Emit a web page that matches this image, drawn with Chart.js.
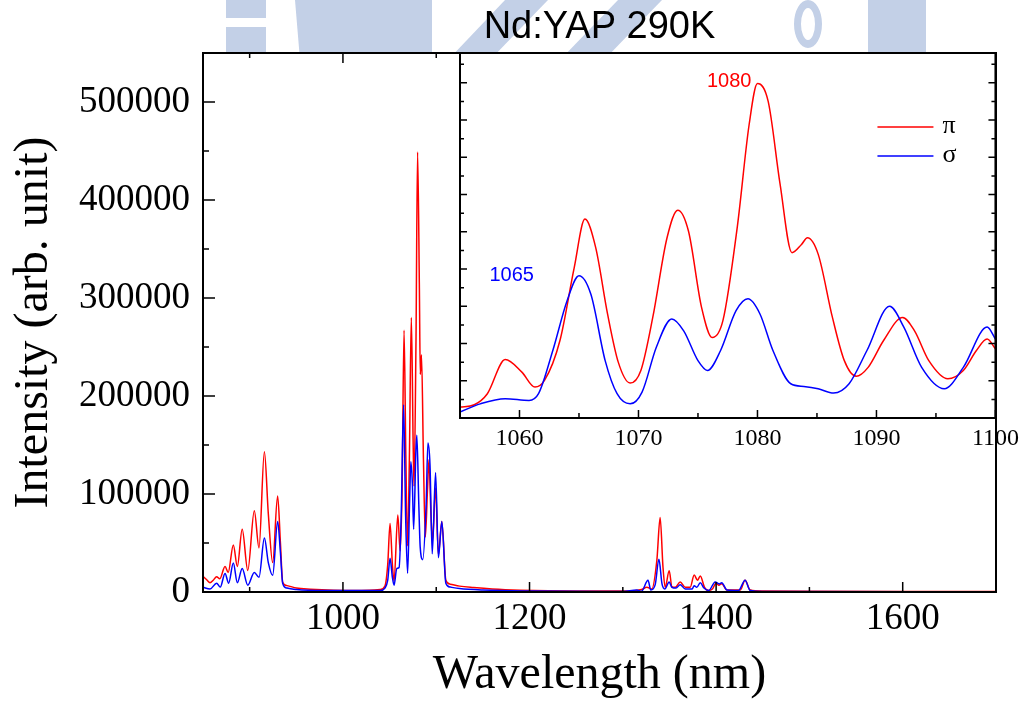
<!DOCTYPE html>
<html>
<head>
<meta charset="utf-8">
<script src="https://cdn.jsdelivr.net/npm/chart.js@4.4.1/dist/chart.umd.min.js"></script>
<style>
  html, body { margin: 0; padding: 0; background: #fff; }
  #quadro { position: relative; width: 1025px; height: 704px; }
  #quadro canvas { position: absolute; left: 0; top: 0; }
</style>
</head>
<body>
<div id="quadro">
  <canvas id="espectro" width="1025" height="704"></canvas>
  <canvas id="detalhe" width="1025" height="704"></canvas>
</div>
<script>
// Espectro de emissão do Nd:YAP a 290 K, polarizações π e σ
const tituloGrafico = 'Nd:YAP 290K';
const tituloEixoX = 'Wavelength (nm)';
const tituloEixoY = 'Intensity (arb. unit)';

// Espectro completo (nm, contagens)
const piComprimento = [850, 854, 857.5, 861, 864.6, 868, 873.6, 877, 882.5, 886.8, 892, 898, 905, 910, 915.8, 920, 924.7, 930, 933, 935.4, 940, 950, 965, 990, 1020, 1040, 1045, 1048, 1050.5, 1053, 1054.8, 1058.8, 1061.3, 1063.4, 1065.5, 1067.4, 1069.3, 1071.2, 1073.3, 1075.3, 1076.2, 1078.3, 1080, 1081.9, 1082.9, 1084.2, 1086.3, 1088.3, 1090.6, 1092.2, 1094.4, 1096, 1099.3, 1102.3, 1106, 1110.3, 1115, 1125, 1140, 1160, 1190, 1250, 1310, 1320, 1325.8, 1331, 1336.5, 1340, 1343, 1345.4, 1349.7, 1352.6, 1356.2, 1361.5, 1366.9, 1372.2, 1376.5, 1380, 1383, 1387.6, 1392, 1396, 1400, 1403, 1406, 1411.6, 1426, 1431, 1436.6, 1450, 1500, 1600, 1700];
const piIntensidade = [16000, 12500, 9500, 12000, 15600, 13500, 26000, 20000, 48000, 26000, 64000, 22000, 83000, 45000, 143000, 80000, 30000, 98000, 50000, 10000, 6500, 4000, 2800, 1800, 1600, 2500, 6000, 28000, 70000, 28000, 11000, 78500, 42000, 104000, 267000, 140000, 47000, 135000, 280000, 149000, 108000, 256000, 449000, 314000, 222000, 242000, 135000, 56000, 104000, 135000, 77000, 52000, 106000, 38000, 72000, 12000, 8000, 6000, 4500, 3000, 1800, 1000, 1000, 2500, 4800, 3000, 32600, 76000, 26000, 4800, 21700, 5400, 4800, 10200, 4800, 4800, 17300, 12000, 16300, 4800, 1500, 3000, 9000, 7000, 8500, 2000, 2000, 12000, 2000, 1000, 700, 600, 600];

const sigmaComprimento = [850, 857.5, 864.6, 868.5, 873.6, 877.5, 882.5, 886.8, 892, 898, 905, 910, 915.8, 920, 924.7, 930, 933, 935.4, 940, 950, 980, 1040, 1045, 1048, 1050.5, 1053, 1054.8, 1057.7, 1060.2, 1062.5, 1065, 1067.2, 1069.3, 1071.5, 1072.8, 1074.4, 1075.8, 1078.2, 1079.2, 1081.3, 1082.8, 1085.6, 1089.2, 1091.1, 1093.3, 1095.7, 1099.3, 1102.3, 1106, 1110.3, 1115, 1125, 1150, 1200, 1300, 1315, 1320, 1327, 1330, 1334.7, 1338.7, 1342, 1345, 1349.7, 1352.6, 1357, 1361.5, 1367, 1374.3, 1376.5, 1379.3, 1383, 1387, 1392, 1399, 1403.4, 1406, 1411.6, 1424, 1431, 1436.6, 1450, 1700];
const sigmaIntensidade = [4800, 3000, 9000, 5000, 19000, 9000, 29500, 9500, 24000, 7000, 20000, 15000, 55000, 30000, 17000, 72000, 40000, 9000, 4000, 2500, 1500, 1500, 4000, 12000, 34500, 15000, 7000, 24000, 25000, 80000, 191000, 77000, 19000, 95000, 133000, 111000, 64000, 144000, 160000, 90000, 46000, 33000, 90000, 152000, 130000, 39000, 122000, 35000, 72000, 9000, 5000, 3500, 2000, 1000, 600, 2000, 800, 12000, 2000, 7500, 33300, 8200, 3000, 10200, 4800, 4000, 7500, 3000, 3000, 6500, 4800, 9500, 4000, 1500, 10200, 8200, 9500, 2000, 1500, 12000, 1500, 600, 300];

// Detalhe 1055-1100 nm
const detalhePiComprimento = [1055, 1056.2, 1057.3, 1058.8, 1060.2, 1061.3, 1062.1, 1063.4, 1064.6, 1065.5, 1066.4, 1067.4, 1068.3, 1069.3, 1070.2, 1071.2, 1072.4, 1073.3, 1074.2, 1075.3, 1076.2, 1077.1, 1078.3, 1079.3, 1080, 1080.9, 1081.9, 1082.9, 1083.7, 1084.2, 1085.1, 1086.3, 1087.3, 1088.3, 1089.3, 1090.6, 1092.2, 1093.2, 1094.4, 1096, 1097.3, 1098.4, 1099.3, 1100];
const detalhePiIntensidade = [14700, 17800, 32600, 78500, 61600, 41500, 50400, 104000, 202000, 267000, 229000, 139700, 75000, 46900, 63800, 135000, 242000, 279000, 251000, 148600, 108000, 131000, 256000, 394000, 449000, 425000, 314000, 222000, 233000, 242000, 220000, 135000, 77000, 56000, 68000, 104000, 135000, 117000, 77000, 52600, 63800, 90600, 106000, 92800];

const detalheSigmaComprimento = [1055, 1056.7, 1058.8, 1060.8, 1061.6, 1062.8, 1064, 1065, 1066, 1067.2, 1068.2, 1069.3, 1070.3, 1071.5, 1072.8, 1073.8, 1075, 1075.8, 1076.9, 1078.2, 1079.2, 1080.2, 1081.3, 1082.8, 1083.9, 1085.1, 1086.4, 1087.7, 1089.2, 1091.1, 1092.3, 1093.8, 1095.7, 1097.3, 1099.3, 1100];
const detalheSigmaIntensidade = [8000, 19000, 26000, 23600, 32600, 90600, 157500, 191000, 166000, 77000, 32600, 19000, 34800, 95000, 133000, 117000, 77000, 63800, 90600, 144000, 160000, 140000, 90600, 46000, 42400, 39300, 33500, 46000, 90600, 150000, 122000, 68000, 39300, 68000, 122000, 106000];

// Picos anotados no detalhe (nm)
const picoPi = 1080;
const picoSigma = 1065;

const ticksX = [1000, 1200, 1400, 1600];
const ticksY = [0, 100000, 200000, 300000, 400000, 500000];
const ticksDetalheX = [1060, 1070, 1080, 1090, 1100];

const corPi = '#ff0000';
const corSigma = '#0000ff';
const fonteSerif = '"Liberation Serif", "Times New Roman", serif';
const fonteSans = '"Liberation Sans", Arial, sans-serif';

function pontos(xs, ys) {
    return xs.map((x, i) => ({ x: x, y: ys[i] }));
}

function serie(inicio, fim, passo) {
    const v = [];
    for (let x = inicio; x <= fim + 1e-9; x += passo) v.push(x);
    return v;
}

// Marcas de escala voltadas para dentro + moldura do gráfico
function criarMarcas(marcas) {
    return {
        id: 'marcasInternas',
        afterDraw(chart) {
            const { ctx, chartArea: a, scales } = chart;
            ctx.save();
            ctx.strokeStyle = '#000';
            ctx.lineWidth = 1.5;
            ctx.beginPath();
            marcas.forEach(m => {
                const s = scales[m.eixo];
                m.valores.forEach(v => {
                    const p = s.getPixelForValue(v);
                    m.lados.forEach(lado => {
                        if (lado === 'left') { ctx.moveTo(a.left, p); ctx.lineTo(a.left + m.tam, p); }
                        if (lado === 'right') { ctx.moveTo(a.right, p); ctx.lineTo(a.right - m.tam, p); }
                        if (lado === 'bottom') { ctx.moveTo(p, a.bottom); ctx.lineTo(p, a.bottom - m.tam); }
                        if (lado === 'top') { ctx.moveTo(p, a.top); ctx.lineTo(p, a.top + m.tam); }
                    });
                });
            });
            ctx.stroke();
            ctx.lineWidth = 2;
            ctx.strokeRect(a.left, a.top, a.width, a.height);
            ctx.restore();
        }
    };
}

// Logotipo claro ao fundo, só aparece acima da área do gráfico
const marcaDagua = {
    id: 'marcaDagua',
    beforeDraw(chart) {
        const { ctx, chartArea: a } = chart;
        ctx.save();
        ctx.beginPath();
        ctx.rect(0, 0, chart.width, a.top);
        ctx.clip();
        ctx.fillStyle = '#c3d0e7';
        ctx.fillRect(226, 0, 40, 18);
        ctx.fillRect(226, 27, 40, 30);
        ctx.beginPath();
        ctx.moveTo(295, 0); ctx.lineTo(432, 0); ctx.lineTo(432, 60); ctx.lineTo(300, 60);
        ctx.closePath(); ctx.fill();
        ctx.beginPath();
        ctx.moveTo(448, 60); ctx.lineTo(505, 0); ctx.lineTo(548, 0); ctx.lineTo(490, 60);
        ctx.closePath(); ctx.fill();
        ctx.beginPath();
        ctx.moveTo(560, 60); ctx.lineTo(618, 0); ctx.lineTo(662, 0); ctx.lineTo(604, 60);
        ctx.closePath(); ctx.fill();
        ctx.beginPath();
        ctx.ellipse(808, 24, 14, 24, 0, 0, Math.PI * 2);
        ctx.ellipse(808, 24, 7, 16, 0, 0, Math.PI * 2);
        ctx.fill('evenodd');
        ctx.fillRect(868, 0, 58, 60);
        ctx.restore();
        ctx.fillStyle = '#fff';
        ctx.fillRect(a.left, a.top, a.width, a.height);
    }
};

const fundoBranco = {
    id: 'fundoBranco',
    beforeDraw(chart) {
        const { ctx, chartArea: a } = chart;
        ctx.save();
        ctx.fillStyle = '#fff';
        ctx.fillRect(a.left, a.top, a.width, a.height);
        ctx.restore();
    }
};

// Rótulos dos picos e legenda desenhados dentro do detalhe
const anotacoesDetalhe = {
    id: 'anotacoesDetalhe',
    afterDatasetsDraw(chart) {
        const { ctx, chartArea: a, scales: { x, y } } = chart;
        ctx.save();
        ctx.font = '20px ' + fonteSans;
        ctx.textBaseline = 'alphabetic';
        ctx.textAlign = 'right';
        ctx.fillStyle = corPi;
        const iPi = detalhePiComprimento.indexOf(picoPi);
        ctx.fillText(String(picoPi), x.getPixelForValue(picoPi) - 6, y.getPixelForValue(detalhePiIntensidade[iPi]) + 3);
        ctx.fillStyle = corSigma;
        const iSigma = detalheSigmaComprimento.indexOf(picoSigma);
        ctx.fillText(String(picoSigma), x.getPixelForValue(picoSigma) - 45, y.getPixelForValue(detalheSigmaIntensidade[iSigma]) + 5);

        // legenda
        const itens = chart.data.datasets;
        ctx.lineWidth = 1.5;
        ctx.font = '26px ' + fonteSerif;
        ctx.textAlign = 'left';
        ctx.textBaseline = 'middle';
        itens.forEach((ds, i) => {
            const yy = a.top + 74 + i * 29;
            ctx.strokeStyle = ds.borderColor;
            ctx.beginPath();
            ctx.moveTo(a.right - 118, yy);
            ctx.lineTo(a.right - 62, yy);
            ctx.stroke();
            ctx.fillStyle = '#000';
            ctx.fillText(ds.label, a.right - 53, yy - 1);
        });
        ctx.restore();
    }
};

Chart.defaults.color = '#000';

const linha = { borderWidth: 1.5, cubicInterpolationMode: 'monotone', fill: false };
const rotuloSimples = v => String(v);

new Chart(document.getElementById('espectro'), {
    type: 'line',
    data: {
        datasets: [
            { label: 'π', data: pontos(piComprimento, piIntensidade), borderColor: corPi, order: 1 },
            { label: 'σ', data: pontos(sigmaComprimento, sigmaIntensidade), borderColor: corSigma, order: 0 }
        ]
    },
    options: {
        responsive: false,
        animation: false,
        events: [],
        layout: { padding: { left: 0, top: 0, right: 29, bottom: 0 } },
        elements: { point: { radius: 0 }, line: linha },
        scales: {
            x: {
                type: 'linear', min: 850, max: 1700,
                grid: { display: false, drawTicks: false },
                border: { display: false },
                afterBuildTicks: s => { s.ticks = ticksX.map(v => ({ value: v })); },
                afterFit: s => { s.height = 112; },
                ticks: { autoSkip: false, maxRotation: 0, padding: 5, font: { family: fonteSerif, size: 37 }, callback: rotuloSimples },
                title: { display: true, text: tituloEixoX, font: { family: fonteSerif, size: 48 }, padding: { top: 0, bottom: 0 } }
            },
            y: {
                type: 'linear', min: 0, max: 550000,
                grid: { display: false, drawTicks: false },
                border: { display: false },
                afterBuildTicks: s => { s.ticks = ticksY.map(v => ({ value: v })); },
                afterFit: s => { s.width = 203; },
                ticks: { autoSkip: false, padding: 13, font: { family: fonteSerif, size: 37 }, callback: rotuloSimples },
                title: { display: true, text: tituloEixoY, font: { family: fonteSerif, size: 48 }, padding: { top: 6, bottom: 0 } }
            }
        },
        plugins: {
            legend: { display: false },
            tooltip: { enabled: false },
            title: {
                display: true, text: tituloGrafico, fullSize: false, color: '#000',
                font: { family: fonteSans, size: 38, weight: 'normal' },
                padding: { top: 5, bottom: 2.4 }
            }
        }
    },
    plugins: [marcaDagua, criarMarcas([
        { eixo: 'y', valores: serie(0, 500000, 100000), tam: 12, lados: ['left'] },
        { eixo: 'y', valores: serie(50000, 550000, 100000), tam: 6, lados: ['left'] },
        { eixo: 'x', valores: serie(1000, 1600, 200), tam: 10, lados: ['bottom', 'top'] },
        { eixo: 'x', valores: serie(900, 1700, 200), tam: 5, lados: ['bottom', 'top'] }
    ])]
});

new Chart(document.getElementById('detalhe'), {
    type: 'line',
    data: {
        datasets: [
            { label: 'π', data: pontos(detalhePiComprimento, detalhePiIntensidade), borderColor: corPi, order: 1 },
            { label: 'σ', data: pontos(detalheSigmaComprimento, detalheSigmaIntensidade), borderColor: corSigma, order: 0 }
        ]
    },
    options: {
        responsive: false,
        animation: false,
        events: [],
        layout: { padding: { left: 460, top: 53, right: 29, bottom: 704 - 418 - 36 } },
        elements: { point: { radius: 0 }, line: linha },
        scales: {
            x: {
                type: 'linear', min: 1055, max: 1100,
                grid: { display: false, drawTicks: false },
                border: { display: false },
                afterBuildTicks: s => { s.ticks = ticksDetalheX.map(v => ({ value: v })); },
                afterFit: s => { s.height = 36; },
                ticks: { autoSkip: false, maxRotation: 0, padding: 6, font: { family: fonteSerif, size: 24 }, callback: rotuloSimples }
            },
            y: { type: 'linear', min: 0, max: 490000, display: false }
        },
        plugins: { legend: { display: false }, tooltip: { enabled: false }, title: { display: false } }
    },
    plugins: [fundoBranco, anotacoesDetalhe, criarMarcas([
        { eixo: 'y', valores: serie(0, 450000, 50000), tam: 7, lados: ['left', 'right'] },
        { eixo: 'y', valores: serie(25000, 475000, 50000), tam: 4, lados: ['left', 'right'] },
        { eixo: 'x', valores: serie(1060, 1100, 10), tam: 8, lados: ['bottom'] },
        { eixo: 'x', valores: serie(1055, 1095, 10), tam: 5, lados: ['bottom'] }
    ])]
});
</script>
</body>
</html>
